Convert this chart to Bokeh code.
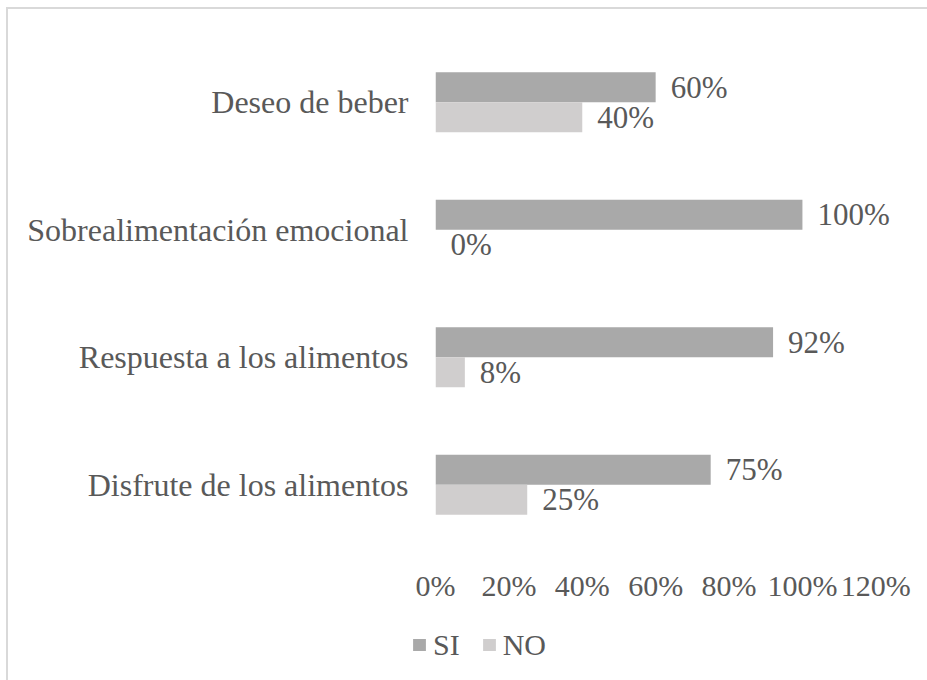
from bokeh.plotting import figure
from bokeh.layouts import column
from bokeh.models import ColumnDataSource, FactorRange, Range1d, Legend, LegendItem, NumeralTickFormatter, FixedTicker
from bokeh.transform import dodge
from bokeh.core.properties import value
from bokeh.embed import file_html
from bokeh.resources import INLINE

categories = ["Disfrute de los alimentos", "Respuesta a los alimentos",
              "Sobrealimentación emocional", "Deseo de beber"]
si_values = [0.75, 0.92, 1.00, 0.60]
no_values = [0.25, 0.08, 0.00, 0.40]
x_ticks = [0, 0.2, 0.4, 0.6, 0.8, 1.0, 1.2]
series_names = ["SI", "NO"]

FONT = "Liberation Serif"
TXT = "#595959"
SI_COLOR = "#a9a9a9"
NO_COLOR = "#d0cece"

src = ColumnDataSource(data=dict(
    cat=categories,
    si=si_values,
    no=no_values,
    si_lbl=[f"{round(v*100)}%" for v in si_values],
    no_lbl=[f"{round(v*100)}%" for v in no_values],
))

p = figure(width=919, height=610, output_backend="svg", toolbar_location=None,
           y_range=FactorRange(factors=categories, range_padding=0),
           x_range=Range1d(0, 1.3))
p.min_border_left = 427
p.min_border_right = 15
p.min_border_top = 29
p.min_border_bottom = 71
p.outline_line_color = None
p.background_fill_color = "white"
p.border_fill_color = "white"

bh = 0.235
off = 0.1176
r_si = p.hbar(y=dodge("cat", off, range=p.y_range), right="si", left=0, height=bh,
              fill_color=SI_COLOR, line_color=None, source=src)
r_no = p.hbar(y=dodge("cat", -off, range=p.y_range), right="no", left=0, height=bh,
              fill_color=NO_COLOR, line_color=None, source=src)

p.text(x="si", y=dodge("cat", off, range=p.y_range), text="si_lbl", source=src,
       x_offset=15, text_baseline="middle", text_align="left",
       text_font=value(FONT), text_font_size="31px", text_color=TXT)
p.text(x="no", y=dodge("cat", -off, range=p.y_range), text="no_lbl", source=src,
       x_offset=15, text_baseline="middle", text_align="left",
       text_font=value(FONT), text_font_size="31px", text_color=TXT)

p.xgrid.grid_line_color = None
p.ygrid.grid_line_color = None

p.xaxis.ticker = FixedTicker(ticks=x_ticks)
p.xaxis.formatter = NumeralTickFormatter(format="0%")
p.xaxis.axis_line_color = None
p.xaxis.major_tick_line_color = None
p.xaxis.minor_tick_line_color = None
p.xaxis.major_label_standoff = 14
p.xaxis.major_label_text_font = FONT
p.xaxis.major_label_text_font_size = "30px"
p.xaxis.major_label_text_color = TXT

p.yaxis.axis_line_color = None
p.yaxis.major_tick_line_color = None
p.yaxis.minor_tick_line_color = None
p.yaxis.major_label_standoff = 21
p.yaxis.major_label_text_font = FONT
p.yaxis.major_label_text_font_size = "32px"
p.yaxis.major_label_text_color = TXT

# legend strip under the axis (same data, proxy renderers hidden)
lf = figure(width=919, height=61, output_backend="svg", toolbar_location=None,
            y_range=FactorRange(factors=categories, range_padding=0),
            x_range=Range1d(0, 1.3))
lf.min_border_left = 0
lf.min_border_right = 0
lf.min_border_top = 0
lf.min_border_bottom = 10
lf.axis.visible = False
lf.grid.visible = False
lf.outline_line_color = None
lf.background_fill_color = "white"
lf.border_fill_color = "white"
for fig in (p, lf):
    if "frame_align" in fig.properties():
        fig.frame_align = False
l_si = lf.hbar(y="cat", right="si", left=0, height=bh, fill_color=SI_COLOR,
               line_color=None, source=src, visible=False)
l_no = lf.hbar(y="cat", right="no", left=0, height=bh, fill_color=NO_COLOR,
               line_color=None, source=src, visible=False)

legend = Legend(items=[LegendItem(label=series_names[0], renderers=[l_si]),
                       LegendItem(label=series_names[1], renderers=[l_no])],
                orientation="horizontal", location="left",
                padding=0, margin=403, spacing=21, label_standoff=6,
                glyph_width=16, glyph_height=15,
                label_text_font=FONT, label_text_font_size="30px", label_text_color=TXT,
                border_line_color=None, background_fill_alpha=0,
                inactive_fill_alpha=0)
lf.add_layout(legend, "center")

layout = column(p, lf, spacing=0,
                styles={"margin-left": "6px", "margin-top": "7px",
                        "border-left": "2px solid #d9d9d9", "border-top": "2px solid #d9d9d9"})

open("out.html", "w").write(file_html(layout, INLINE))
